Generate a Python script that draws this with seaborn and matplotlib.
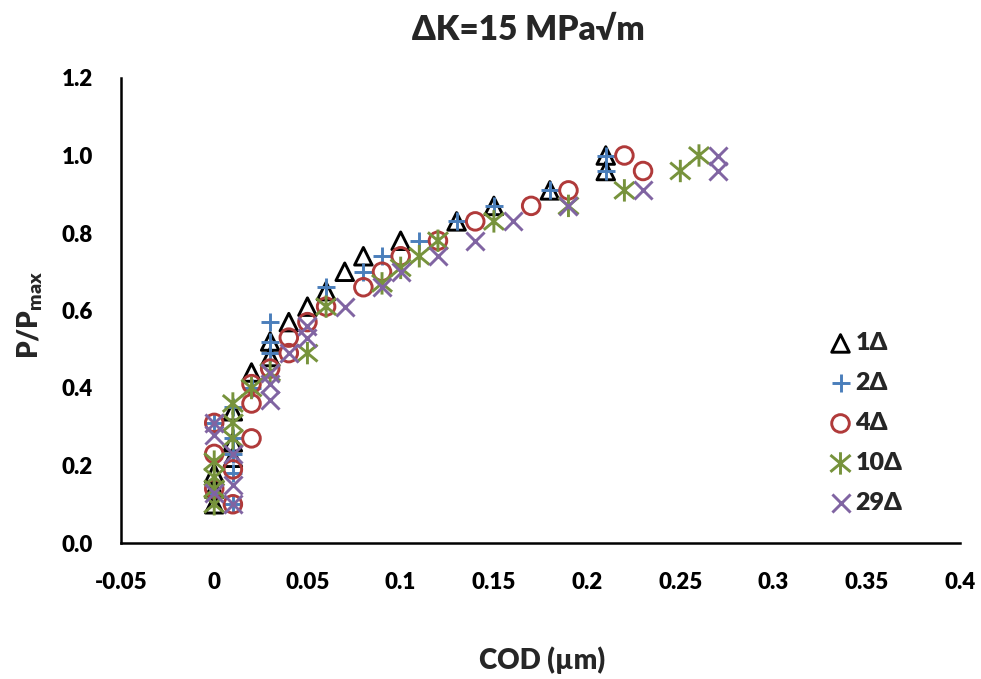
import matplotlib
matplotlib.use("Agg")
import matplotlib.pyplot as plt
import seaborn as sns
import pandas as pd
from matplotlib.path import Path

# ---------------- data ----------------
series_labels = ["1Δ", "2Δ", "4Δ", "10Δ", "29Δ"]

cod_1 = [0, 0, 0, 0.01, 0.01, 0.01, 0.02, 0.03, 0.03, 0.04, 0.05, 0.06, 0.07, 0.08, 0.10, 0.13, 0.15, 0.18, 0.21, 0.21]
p_1 = [0.10, 0.14, 0.18, 0.22, 0.26, 0.34, 0.44, 0.48, 0.52, 0.57, 0.61, 0.65, 0.70, 0.74, 0.78, 0.83, 0.87, 0.91, 0.96, 1.00]

cod_2 = [0, 0, 0.01, 0.01, 0.01, 0.01, 0.01, 0.02, 0.03, 0.03, 0.03, 0.06, 0.08, 0.09, 0.11, 0.13, 0.15, 0.18, 0.21, 0.21]
p_2 = [0.13, 0.31, 0.10, 0.18, 0.23, 0.27, 0.35, 0.40, 0.49, 0.52, 0.57, 0.66, 0.70, 0.74, 0.78, 0.83, 0.87, 0.91, 0.96, 1.00]

cod_4 = [0, 0, 0, 0.01, 0.01, 0.02, 0.02, 0.02, 0.03, 0.04, 0.04, 0.05, 0.06, 0.08, 0.09, 0.10, 0.12, 0.14, 0.17, 0.19, 0.22, 0.23]
p_4 = [0.14, 0.23, 0.31, 0.10, 0.19, 0.27, 0.36, 0.41, 0.45, 0.49, 0.53, 0.57, 0.61, 0.66, 0.70, 0.74, 0.78, 0.83, 0.87, 0.91, 1.00, 0.96]

cod_10 = [0, 0, 0, 0, 0.01, 0.01, 0.01, 0.02, 0.03, 0.05, 0.06, 0.09, 0.10, 0.11, 0.12, 0.15, 0.19, 0.22, 0.25, 0.26]
p_10 = [0.10, 0.14, 0.17, 0.21, 0.27, 0.31, 0.36, 0.40, 0.44, 0.49, 0.61, 0.67, 0.71, 0.74, 0.78, 0.83, 0.87, 0.91, 0.96, 1.00]

cod_29 = [0, 0, 0, 0.01, 0.01, 0.01, 0.03, 0.03, 0.03, 0.04, 0.05, 0.05, 0.07, 0.09, 0.10, 0.12, 0.14, 0.16, 0.19, 0.23, 0.27, 0.27]
p_29 = [0.13, 0.28, 0.31, 0.10, 0.15, 0.23, 0.37, 0.41, 0.44, 0.49, 0.53, 0.56, 0.61, 0.66, 0.70, 0.74, 0.78, 0.83, 0.87, 0.91, 0.96, 1.00]

x_ticks = [-0.05, 0, 0.05, 0.1, 0.15, 0.2, 0.25, 0.3, 0.35, 0.4]
x_tick_labels = ["-0.05", "0", "0.05", "0.1", "0.15", "0.2", "0.25", "0.3", "0.35", "0.4"]
y_ticks = [0.0, 0.2, 0.4, 0.6, 0.8, 1.0, 1.2]
y_tick_labels = ["0.0", "0.2", "0.4", "0.6", "0.8", "1.0", "1.2"]

frames = []
for lab, xs, ys in zip(series_labels, [cod_1, cod_2, cod_4, cod_10, cod_29],
                       [p_1, p_2, p_4, p_10, p_29]):
    frames.append(pd.DataFrame({"COD": xs, "P": ys, "series": lab}))
df = pd.concat(frames, ignore_index=True)

# ---------------- style ----------------
sns.set_style("white")
FONT = ["Lato", "DejaVu Sans"]
W = "heavy"
plt.rcParams["font.family"] = FONT
plt.rcParams["font.weight"] = W
plt.rcParams["mathtext.fontset"] = "custom"
plt.rcParams["mathtext.rm"] = "Lato:heavy"
plt.rcParams["mathtext.bf"] = "Lato:heavy"
plt.rcParams["mathtext.it"] = "Lato:heavy"

star = Path([(0, -1), (0, 1), (-0.9, -0.75), (0.9, 0.75), (-0.9, 0.75), (0.9, -0.75)],
            [Path.MOVETO, Path.LINETO, Path.MOVETO, Path.LINETO, Path.MOVETO, Path.LINETO])

styles = {
    "1Δ": dict(marker="^", color="black", open=True, s=160),
    "2Δ": dict(marker="+", color="#4a7ebb", open=False, s=170),
    "4Δ": dict(marker="o", color="#b03a3a", open=True, s=160),
    "10Δ": dict(marker=star, color="#77933c", open=True, s=260),
    "29Δ": dict(marker="x", color="#8064a2", open=False, s=170),
}

fig = plt.figure(figsize=(9.81, 6.79), dpi=100)
ax = fig.add_axes([121 / 981, 1 - 543 / 679, (960 - 121) / 981, (543 - 78) / 679])

for lab in series_labels:
    st = styles[lab]
    sub = df[df["series"] == lab]
    if st["open"]:
        sns.scatterplot(data=sub, x="COD", y="P", ax=ax, marker=st["marker"], s=st["s"],
                        color=st["color"], facecolor="none", edgecolor=st["color"],
                        linewidth=2.1, label=lab, clip_on=False, zorder=3)
    else:
        sns.scatterplot(data=sub, x="COD", y="P", ax=ax, marker=st["marker"], s=st["s"],
                        color=st["color"], linewidth=2.1, label=lab, clip_on=False,
                        zorder=3)

ax.set_xlim(-0.05, 0.4)
ax.set_ylim(0, 1.2)
ax.set_xticks(x_ticks)
ax.set_xticklabels(x_tick_labels)
ax.set_yticks(y_ticks)
ax.set_yticklabels(y_tick_labels)
ax.tick_params(axis="both", direction="in", length=7, width=1.6, labelsize=16,
               colors="black")
ax.tick_params(axis="x", pad=21)
ax.tick_params(axis="y", pad=20)
for lbl in ax.get_xticklabels() + ax.get_yticklabels():
    lbl.set_fontweight(W)
for side in ["top", "right"]:
    ax.spines[side].set_visible(False)
for side in ["left", "bottom"]:
    ax.spines[side].set_linewidth(1.8)
    ax.spines[side].set_color("black")
ax.set_xlabel("")
ax.set_ylabel("")

fig.text(528 / 981, 1 - 30 / 679, "ΔK=15 MPa√m", ha="center", va="center",
         fontsize=24, fontweight=W, family=FONT)
fig.text(542 / 981, 1 - 660 / 679, "COD (µm)", ha="center", va="center",
         fontsize=20, fontweight=W, family=FONT)
fig.text(30 / 981, 1 - 315 / 679, r"P/P$_{\mathbf{max}}$", ha="center", va="center",
         rotation=90, fontsize=20, fontweight=W, family=FONT)

leg = ax.legend(loc="upper left", bbox_to_anchor=(818 / 981, 1 - 322 / 679),
                bbox_transform=fig.transFigure, frameon=False, fontsize=18,
                handletextpad=0.1, labelspacing=0.72, borderaxespad=0,
                handlelength=1.0, markerscale=1.0)
for t in leg.get_texts():
    t.set_fontweight(W)

fig.savefig("out.png", dpi=100)
